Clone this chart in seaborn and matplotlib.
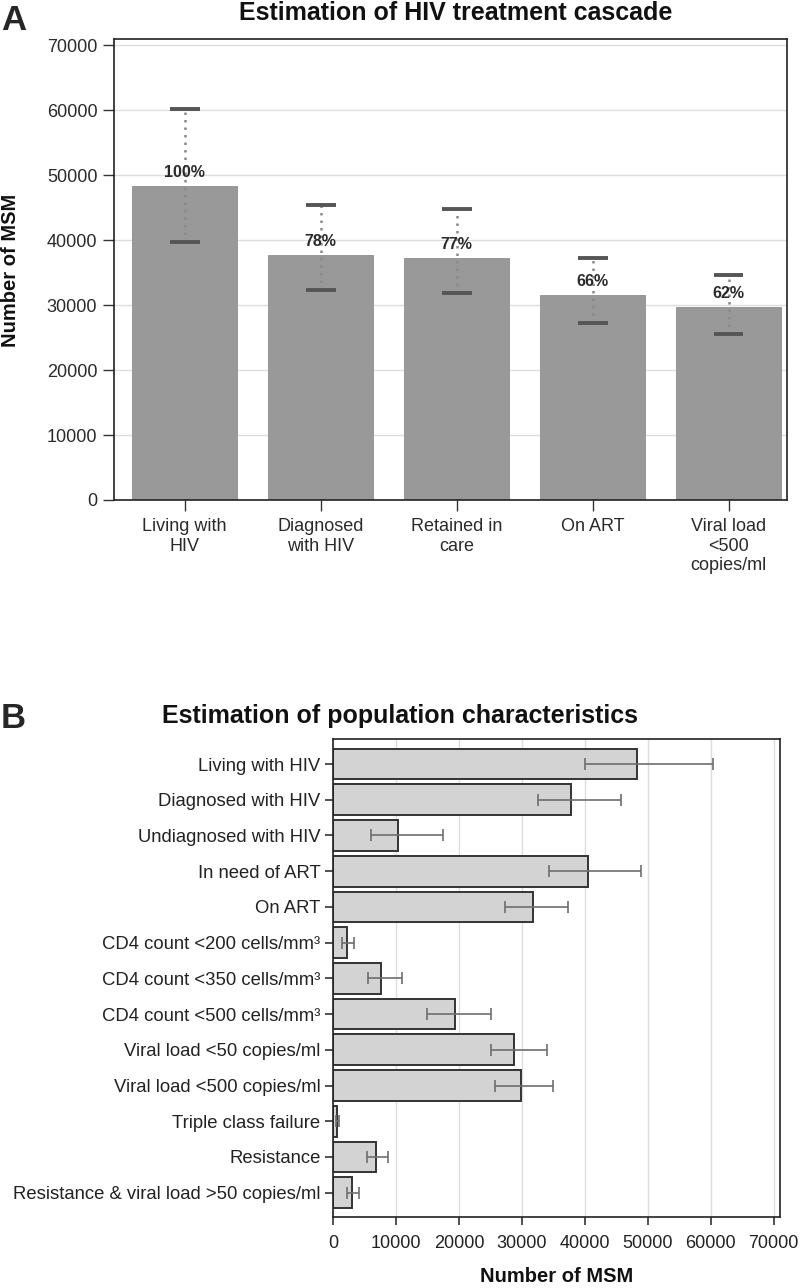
import matplotlib
matplotlib.use("Agg")
import matplotlib.pyplot as plt
import seaborn as sns
import numpy as np
import pandas as pd

# ---- Panel A data ----
cascade_labels = ["Living with\nHIV", "Diagnosed\nwith HIV", "Retained in\ncare", "On ART",
                  "Viral load\n<500\ncopies/ml"]
cascade_values = [48400, 37800, 37300, 31600, 29800]
cascade_low = [39800, 32300, 31900, 27300, 25600]
cascade_high = [60200, 45500, 44800, 37300, 34700]
cascade_pct = ["100%", "78%", "77%", "66%", "62%"]

# ---- Panel B data ----
char_labels = ["Living with HIV", "Diagnosed with HIV", "Undiagnosed with HIV", "In need of ART",
               "On ART", "CD4 count <200 cells/mm³", "CD4 count <350 cells/mm³",
               "CD4 count <500 cells/mm³", "Viral load <50 copies/ml", "Viral load <500 copies/ml",
               "Triple class failure", "Resistance", "Resistance & viral load >50 copies/ml"]
char_values = [48300, 37800, 10400, 40500, 31700, 2300, 7700, 19300, 28700, 29900, 650, 6900, 3000]
char_low = [40000, 32500, 6100, 34300, 27300, 1500, 5600, 14900, 25100, 25700, 400, 5400, 2200]
char_high = [60300, 45700, 17400, 49000, 37300, 3300, 10900, 25100, 34000, 35000, 900, 8800, 4200]

sns.set_theme(style="white")
plt.rcParams['font.family'] = ['Liberation Sans', 'DejaVu Sans']

fig = plt.figure(figsize=(8, 12.88), dpi=100)

# ---------------- Panel A ----------------
axA = fig.add_axes([114/800, 1-500/1288, (787-114)/800, (500-39)/1288])
dfA = pd.DataFrame({"cat": cascade_labels, "val": cascade_values})
sns.barplot(data=dfA, x="cat", y="val", color="#999999", saturation=1, width=0.77,
            edgecolor="#8e8e8e", linewidth=0.6, ax=axA)
xpos = np.arange(len(cascade_values))
axA.vlines(xpos, cascade_low, cascade_high, colors="#8a8a8a", linestyles=(0, (1, 2)), linewidth=1.8, zorder=3)
axA.hlines(cascade_low, xpos-0.11, xpos+0.11, colors="#555555", linewidth=2.8, zorder=4)
axA.hlines(cascade_high, xpos-0.11, xpos+0.11, colors="#555555", linewidth=2.8, zorder=4)
for i, (v, p) in enumerate(zip(cascade_values, cascade_pct)):
    axA.text(i, v + 2000, p, ha="center", va="center", fontsize=11.5, fontweight="bold",
             color="#2a2a2a", zorder=5)
axA.set_ylim(0, 71000)
axA.set_xlim(-0.52, 4.43)
axA.set_yticks(np.arange(0, 70001, 10000))
axA.yaxis.grid(True, color="#dddddd", linewidth=1)
axA.set_axisbelow(True)
axA.tick_params(axis="both", which="both", direction="out", length=8, width=1, color="#333333",
                labelsize=13, labelcolor="#2a2a2a", left=True, bottom=True)
axA.tick_params(axis="x", pad=5)
axA.tick_params(axis="y", pad=4)
axA.set_xlabel("")
axA.set_ylabel("")
for s in axA.spines.values():
    s.set_color("#222222")
    s.set_linewidth(1.2)
fig.text(11/800, 1-270/1288, "Number of MSM", rotation=90, fontsize=14.5, fontweight="bold",
         ha="center", va="center", color="#111111")
fig.text(456/800, 1-13/1288, "Estimation of HIV treatment cascade", fontsize=18, fontweight="bold",
         ha="center", va="center", color="#111111")
fig.text(1/800, 1-20/1288, "A", fontsize=25, fontweight="bold", va="center", ha="left")

# ---------------- Panel B ----------------
axB = fig.add_axes([333/800, 1-1217/1288, (780-333)/800, (1217-739)/1288])
dfB = pd.DataFrame({"cat": char_labels, "val": char_values})
sns.barplot(data=dfB, y="cat", x="val", color="#d3d3d3", saturation=1, width=0.86,
            edgecolor="#333333", linewidth=1.4, orient="h", ax=axB)
ypos = np.arange(len(char_values))
lo = np.array(char_values) - np.array(char_low)
hi = np.array(char_high) - np.array(char_values)
axB.errorbar(char_values, ypos, xerr=[lo, hi], fmt="none", ecolor="#6e6e6e", elinewidth=1.2,
             capsize=4.5, capthick=1.2, zorder=4)
axB.set_xlim(0, 71000)
axB.set_ylim(12.68, -0.7)
axB.set_xticks(np.arange(0, 70001, 10000))
axB.xaxis.grid(True, color="#dddddd", linewidth=1)
axB.set_axisbelow(True)
axB.tick_params(axis="both", which="both", direction="out", length=6, width=1.2, color="#333333",
                labelsize=13.3, labelcolor="#222222", left=True, bottom=True)
axB.tick_params(axis="x", labelsize=13, pad=7)
axB.tick_params(axis="y", pad=3)
axB.set_ylabel("")
axB.set_xlabel("")
for s in axB.spines.values():
    s.set_color("#222222")
    s.set_linewidth(1.2)
fig.text(557/800, 1-1276/1288, "Number of MSM", fontsize=14.5, fontweight="bold",
         ha="center", va="center", color="#111111")
fig.text(400/800, 1-716/1288, "Estimation of population characteristics", fontsize=18,
         fontweight="bold", ha="center", va="center", color="#111111")
fig.text(1/800, 1-719/1288, "B", fontsize=25, fontweight="bold", va="center", ha="left")

fig.savefig("out.png", dpi=100)
